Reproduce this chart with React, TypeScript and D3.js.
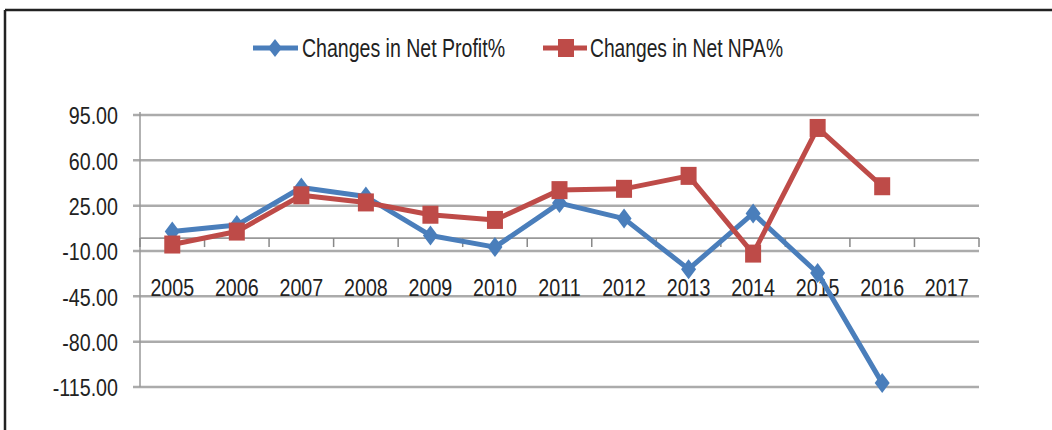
import React from "react";
import * as d3 from "d3";

const years = ["2005","2006","2007","2008","2009","2010","2011","2012","2013","2014","2015","2016","2017"];
const netProfit: (number | null)[] = [5, 10, 39, 32, 2, -7, 27, 15, -24, 19, -27, -112, null];
const netNPA: (number | null)[] = [-5, 5, 33, 27.5, 18, 14, 37, 38, 48, -12, 85, 40, null];
const yTicks = [95, 60, 25, -10, -45, -80, -115];
const seriesNames = ["Changes in Net Profit%", "Changes in Net NPA%"];

const BLUE = "#4A7EBB";
const RED = "#BE4B48";
const FONT = "'Liberation Sans', Arial, sans-serif";
const SX = 0.82;

function NarrowText(props: { x: number; y: number; anchor: "start" | "middle" | "end"; size: number; children: string; baseline?: string }) {
  return (
    <g transform={`translate(${props.x},${props.y}) scale(${SX},1)`}>
      <text x={0} y={0} textAnchor={props.anchor} dominantBaseline={props.baseline as any}
        fontFamily={FONT} fontSize={props.size} fill="#222">
        {props.children}
      </text>
    </g>
  );
}

export default function App() {
  const W = 1052, H = 430;
  const x = d3.scaleBand<string>().domain(years).range([140, 979]).paddingInner(0).paddingOuter(0);
  const y = d3.scaleLinear().domain([-115, 95]).range([387, 115]);
  const cx = (yr: string) => (x(yr) as number) + x.bandwidth() / 2;

  const line = d3
    .line<number | null>()
    .defined((d) => d !== null)
    .x((_, i) => cx(years[i]))
    .y((d) => y(d as number));

  const diamond = (px: number, py: number, w = 15, h = 20) =>
    `M${px},${py - h / 2}L${px + w / 2},${py}L${px},${py + h / 2}L${px - w / 2},${py}Z`;

  const y0 = y(0);
  const boundaries = years.map((yr) => x(yr) as number).concat([979]);
  const fmt = (t: number) => t.toFixed(2);

  return (
    <svg width={W} height={H} style={{ position: "absolute", left: 0, top: 0, background: "#fff" }}>
      {/* border */}
      <line x1={5} y1={10} x2={W} y2={10} stroke="#222" strokeWidth={2.5} />
      <line x1={5} y1={10} x2={5} y2={H} stroke="#222" strokeWidth={2.5} />

      {/* gridlines */}
      {yTicks.map((t) => (
        <line key={t} x1={133} x2={979} y1={y(t)} y2={y(t)} stroke="#ababab" strokeWidth={2.5} />
      ))}
      {/* vertical axis */}
      <line x1={140} x2={140} y1={112} y2={y(-115)} stroke="#999" strokeWidth={1.5} />
      {/* category axis at zero */}
      <line x1={140} x2={979} y1={y0} y2={y0} stroke="#999" strokeWidth={1.8} />
      {boundaries.map((b, i) => (
        <line key={i} x1={b} x2={b} y1={y0} y2={y0 + 9} stroke="#888" strokeWidth={1.5} />
      ))}

      {/* y labels */}
      {yTicks.map((t) => (
        <NarrowText key={t} x={118} y={y(t) + 1} anchor="end" size={24} baseline="central">
          {fmt(t)}
        </NarrowText>
      ))}
      {/* x labels */}
      {years.map((yr) => (
        <NarrowText key={yr} x={cx(yr)} y={296} anchor="middle" size={24}>
          {yr}
        </NarrowText>
      ))}

      {/* series */}
      <path d={line(netProfit) || ""} fill="none" stroke={BLUE} strokeWidth={5} strokeLinejoin="round" />
      {netProfit.map((v, i) =>
        v === null ? null : <path key={i} d={diamond(cx(years[i]), y(v))} fill={BLUE} />
      )}
      <path d={line(netNPA) || ""} fill="none" stroke={RED} strokeWidth={5} strokeLinejoin="round" />
      {netNPA.map((v, i) =>
        v === null ? null : (
          <rect key={i} x={cx(years[i]) - 8} y={y(v) - 9} width={16} height={18} fill={RED} />
        )
      )}

      {/* legend */}
      <line x1={253} x2={298} y1={48} y2={48} stroke={BLUE} strokeWidth={5} />
      <path d={diamond(275, 48, 14, 18)} fill={BLUE} />
      <text x={302} y={57} fontFamily={FONT} fontSize={25} fill="#222" textLength={203} lengthAdjust="spacingAndGlyphs">
        {seriesNames[0]}
      </text>
      <line x1={543} x2={587} y1={48} y2={48} stroke={RED} strokeWidth={5} />
      <rect x={558} y={39} width={16} height={18} fill={RED} />
      <text x={590} y={57} fontFamily={FONT} fontSize={25} fill="#222" textLength={193} lengthAdjust="spacingAndGlyphs">
        {seriesNames[1]}
      </text>
    </svg>
  );
}
